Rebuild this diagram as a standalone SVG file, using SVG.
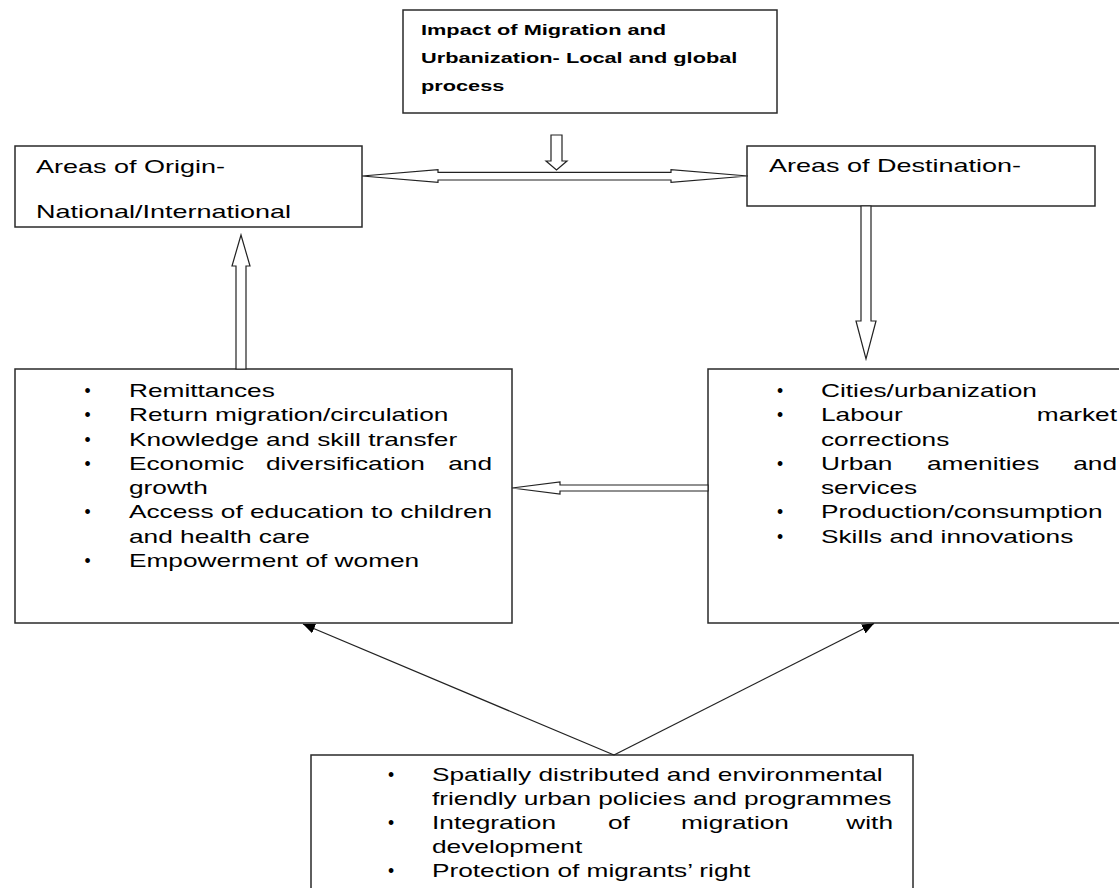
<svg xmlns="http://www.w3.org/2000/svg" width="1119" height="888" viewBox="0 0 1119 888">
<style>
.box{fill:#fff;stroke:#2a2a2a;stroke-width:1.5}
.t{font-family:"Liberation Sans",Arial,sans-serif;font-size:17.5px;fill:#000}
.a{font-size:18px}
.b{font-weight:bold;font-size:14.5px}
.e{text-anchor:end}
.blt{font-family:"Liberation Sans",Arial,sans-serif;font-size:17.5px;fill:#000;text-anchor:middle}
.blk{fill:#fff;stroke:#222;stroke-width:1.2;stroke-linejoin:miter}
.ln{stroke:#222;stroke-width:1.3;fill:none}
</style>
<defs>
<marker id="ah" viewBox="0 0 12 10" refX="12" refY="5" markerWidth="12" markerHeight="10" markerUnits="userSpaceOnUse" orient="auto">
<path d="M0,0 L12,5 L0,10 z" fill="#000"/>
</marker>
</defs>
<rect width="1119" height="888" fill="#fff"/>

<g id="impact">
<rect class="box" x="403" y="10" width="374" height="103"/>
<text class="t b" transform="translate(421,35) scale(1.5,1)">Impact of Migration and</text>
<text class="t b" transform="translate(421,63) scale(1.5,1)">Urbanization- Local and global</text>
<text class="t b" transform="translate(421,91) scale(1.5,1)">process</text>
</g>

<g id="origin">
<rect class="box" x="15" y="146" width="347" height="81"/>
<text class="t a" transform="translate(36,173) scale(1.5,1)">Areas of Origin-</text>
<text class="t a" transform="translate(36,218) scale(1.5,1)">National/International</text>
</g>

<g id="destination">
<rect class="box" x="747" y="146" width="348" height="60"/>
<text class="t a" transform="translate(769,172) scale(1.5,1)">Areas of Destination-</text>
</g>

<g id="origin-effects">
<rect class="box" x="15" y="369" width="497" height="254"/>
<text class="blt" x="87.5" y="397">•</text>
<text class="t" transform="translate(129,397) scale(1.5,1)">Remittances</text>
<text class="blt" x="87.5" y="421">•</text>
<text class="t" transform="translate(129,421) scale(1.5,1)">Return migration/circulation</text>
<text class="blt" x="87.5" y="446">•</text>
<text class="t" transform="translate(129,446) scale(1.5,1)">Knowledge and skill transfer</text>
<text class="blt" x="87.5" y="470">•</text>
<text class="t" transform="translate(129,470) scale(1.5,1)">Economic</text>
<text class="t" transform="translate(266,470) scale(1.5,1)">diversification</text>
<text class="t e" transform="translate(492,470) scale(1.5,1)">and</text>
<text class="t" transform="translate(129,494) scale(1.5,1)">growth</text>
<text class="blt" x="87.5" y="518">•</text>
<text class="t" transform="translate(129,518) scale(1.5,1)">Access of education to children</text>
<text class="t" transform="translate(129,543) scale(1.5,1)">and health care</text>
<text class="blt" x="87.5" y="567">•</text>
<text class="t" transform="translate(129,567) scale(1.5,1)">Empowerment of women</text>
</g>

<g id="destination-effects">
<rect class="box" x="708" y="369" width="450" height="254"/>
<text class="blt" x="780" y="397">•</text>
<text class="t" transform="translate(821,397) scale(1.5,1)">Cities/urbanization</text>
<text class="blt" x="780" y="421">•</text>
<text class="t" transform="translate(821,421) scale(1.5,1)">Labour</text>
<text class="t e" transform="translate(1117,421) scale(1.5,1)">market</text>
<text class="t" transform="translate(821,446) scale(1.5,1)">corrections</text>
<text class="blt" x="780" y="470">•</text>
<text class="t" transform="translate(821,470) scale(1.5,1)">Urban</text>
<text class="t" transform="translate(927,470) scale(1.5,1)">amenities</text>
<text class="t e" transform="translate(1117,470) scale(1.5,1)">and</text>
<text class="t" transform="translate(821,494) scale(1.5,1)">services</text>
<text class="blt" x="780" y="518">•</text>
<text class="t" transform="translate(821,518) scale(1.5,1)">Production/consumption</text>
<text class="blt" x="780" y="543">•</text>
<text class="t" transform="translate(821,543) scale(1.5,1)">Skills and innovations</text>
</g>

<g id="policies">
<rect class="box" x="311" y="755" width="602" height="150"/>
<text class="blt" x="391" y="781">•</text>
<text class="t" transform="translate(432,781) scale(1.5,1)">Spatially distributed and environmental</text>
<text class="t" transform="translate(432,805) scale(1.5,1)">friendly urban policies and programmes</text>
<text class="blt" x="391" y="829">•</text>
<text class="t" transform="translate(432,829) scale(1.5,1)">Integration</text>
<text class="t" transform="translate(608,829) scale(1.5,1)">of</text>
<text class="t" transform="translate(681,829) scale(1.5,1)">migration</text>
<text class="t e" transform="translate(893,829) scale(1.5,1)">with</text>
<text class="t" transform="translate(432,853) scale(1.5,1)">development</text>
<text class="blt" x="391" y="877">•</text>
<text class="t" transform="translate(432,877) scale(1.5,1)">Protection of migrants’ right</text>
</g>

<g id="connectors">
<polygon class="blk" points="551,135 562,135 562,161 567,161 556.5,170 546,161 551,161"/>
<polygon class="blk" points="362,176 438,169.7 438,172.3 671,172.3 671,169.7 748,176 671,182.3 671,180 438,180 438,182.3"/>
<polygon class="blk" points="241,235 250,266 246,266 246,369 236,369 236,266 232,266"/>
<polygon class="blk" points="861,206 871,206 871,321 876,321 866,359 856,321 861,321"/>
<polygon class="blk" points="512,488 560,482 560,485 708,485 708,491 560,491 560,494"/>
<line class="ln" x1="614" y1="755" x2="303" y2="624" marker-end="url(#ah)"/>
<line class="ln" x1="614" y1="755" x2="874" y2="623.5" marker-end="url(#ah)"/>
</g>
</svg>
